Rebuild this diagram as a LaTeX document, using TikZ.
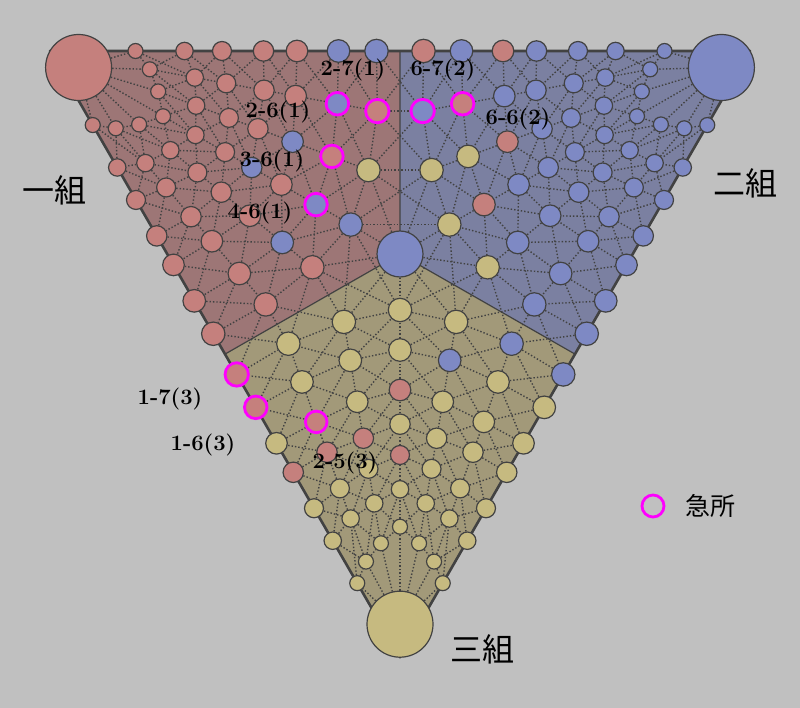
\documentclass[tikz,border=0pt]{standalone}
\usepackage{fontspec}
\newfontfamily\jpfont{Noto Sans CJK JP}
\usetikzlibrary{backgrounds}

\definecolor{bggray}{HTML}{C0C0C0}
\definecolor{redzone}{HTML}{9D7676}
\definecolor{bluezone}{HTML}{7B80A1}
\definecolor{yelzone}{HTML}{A29979}
\definecolor{redstone}{HTML}{C5807D}
\definecolor{bluestone}{HTML}{7E89C4}
\definecolor{yelstone}{HTML}{C6BA80}
\definecolor{inkgray}{HTML}{424242}
\definecolor{kyucolor}{RGB}{255,0,255}

\tikzset{
  stone/.style={circle, draw=inkgray, line width=1.2pt, inner sep=0pt},
  stone1/.style={stone, fill=redstone},
  stone2/.style={stone, fill=bluestone},
  stone3/.style={stone, fill=yelstone},
  red stone/.style={fill=redstone},
  blue stone/.style={fill=bluestone},
  yel stone/.style={fill=yelstone},
  kyusho/.style={draw=kyucolor, line width=2.8pt},
  sz1/.style={minimum size=15pt},
  sz2/.style={minimum size=17.4pt},
  sz3/.style={minimum size=19pt},
  sz4/.style={minimum size=20.4pt},
  sz5/.style={minimum size=21.6pt},
  sz6/.style={minimum size=22.6pt},
  sz7/.style={minimum size=23.4pt},
  web/.style={draw=inkgray, line width=1.4pt, dash pattern=on 1.4pt off 2pt},
  zone edge/.style={draw=inkgray, line width=1.2pt},
  rim/.style={draw=inkgray, line width=2.6pt, line join=round},
  pos label/.style={font=\bfseries\fontsize{22}{26}\selectfont, inner sep=0pt},
  group label/.style={font=\jpfont\fontsize{32}{36}\selectfont, inner sep=0pt},
  % stones that are not of the zone colour
  st1-1-6/.style={blue stone}, st1-1-7/.style={blue stone},
  st1-2-6/.style={blue stone, kyusho}, st1-2-7/.style={kyusho},
  st1-3-5/.style={blue stone}, st1-3-6/.style={kyusho}, st1-3-7/.style={yel stone},
  st1-4-4/.style={blue stone}, st1-4-6/.style={blue stone, kyusho},
  st1-4-7/.style={blue stone}, st1-5-6/.style={blue stone},
  st2-7-7/.style={red stone}, st2-7-5/.style={red stone},
  st2-6-6/.style={red stone, kyusho}, st2-6-7/.style={kyusho},
  st2-5-5/.style={red stone}, st2-5-6/.style={yel stone}, st2-5-7/.style={yel stone},
  st2-4-6/.style={red stone}, st2-4-7/.style={yel stone}, st2-3-7/.style={yel stone},
  st3-1-7/.style={red stone, kyusho}, st3-1-6/.style={red stone, kyusho},
  st3-2-5/.style={red stone, kyusho}, st3-1-4/.style={red stone},
  st3-2-4/.style={red stone}, st3-3-4/.style={red stone},
  st3-4-3/.style={red stone}, st3-4-5/.style={red stone},
  st3-5-6/.style={blue stone}, st3-6-7/.style={blue stone}, st3-7-7/.style={blue stone}
}

\begin{document}
\begin{tikzpicture}[x=1pt, y=-1pt]
  \useasboundingbox (0,0) rectangle (800,708);
  % triangle and zone borders
  \coordinate (v1) at (50,51);
  \coordinate (v2) at (750,51);
  \coordinate (v3) at (400,657.2);
  \coordinate (mtop) at (400,51);
  \coordinate (mleft) at (225,354.1);
  \coordinate (mright) at (575,354.1);
  \node[stone2, minimum size=46pt] (o) at (400,254) {};
  \node[stone1, minimum size=66pt] (c1) at ([shift={(50,51)}]30:33) {};
  \node[stone2, minimum size=66pt] (c2) at ([shift={(750,51)}]150:33) {};
  \node[stone3, minimum size=66pt] (c3) at ([shift={(400,657.2)}]270:33) {};

  % stones, row by row out of each corner
  \foreach \reg/\cx/\cy/\base in {1/50/51/0, 2/750/51/120, 3/400/657.2/240}
    \foreach \i/\ang/\rA/\rB/\rC/\rD/\rE/\rF/\rG in {
        1/0/85.5/134.5/172/213.5/247/288.5/326.5,
        2/10.4/101.5/147.2/179.2/217.6/249.8/292.2/332.8,
        3/20.5/115.5/156/191/222/259/301/340,
        4/30/130.5/167.9/202.2/233/267.2/307.2/347.2,
        5/39.5/115.5/156/191/222/259/301/340,
        6/49.6/101.5/147.2/179.2/217.6/249.8/292.2/332.8,
        7/60/85.5/134.5/172/213.5/247/288.5/326.5}
      \foreach \j/\rad in {1/\rA,2/\rB,3/\rC,4/\rD,5/\rE,6/\rF,7/\rG}
        \node[stone\reg, sz\j, st\reg-\i-\j/.try] (s\reg-\i-\j)
          at ([shift={(\cx,\cy)}]\base+\ang:\rad) {};

  \begin{scope}[on background layer]
    \fill[bggray] (0,0) rectangle (800,708);
    \fill[redzone] (v1) -- (mtop) -- (o.center) -- (mleft) -- cycle;
    \fill[bluezone] (v2) -- (mright) -- (o.center) -- (mtop) -- cycle;
    \fill[yelzone] (v3) -- (mleft) -- (o.center) -- (mright) -- cycle;
    \draw[zone edge] (o.center) -- (mtop) (o.center) -- (mleft) (o.center) -- (mright);
    \draw[rim] (v1) -- (v2) -- (v3) -- cycle;
    % the web inside each zone
    \foreach \reg in {1,2,3} {
      \foreach \i in {1,...,7} {
        \draw[web] (c\reg) -- (s\reg-\i-1);
        \foreach \j [count=\jj from 2] in {1,...,6}
          \draw[web] (s\reg-\i-\j) -- (s\reg-\i-\jj);
      }
      \foreach \i [count=\ii from 2] in {1,...,6} {
        \foreach \j in {1,...,7}
          \draw[web] (s\reg-\i-\j) -- (s\reg-\ii-\j);
        \foreach \j [count=\jj from 2] in {1,...,6} {
          \draw[web] (s\reg-\i-\j) -- (s\reg-\ii-\jj);
          \draw[web] (s\reg-\ii-\j) -- (s\reg-\i-\jj);
        }
      }
      \foreach \i in {3,4,5}
        \draw[web] (o) -- (s\reg-\i-7);
    }
    % across the zone borders
    \foreach \reg/\nxt in {1/2, 2/3, 3/1} {
      \foreach \i in {1,...,4} {
        \pgfmathtruncatemacro\m{8-\i}
        \draw[web] (s\reg-\i-7) -- (s\nxt-\m-7);
      }
      \foreach \i [count=\ii from 2] in {1,2,3} {
        \pgfmathtruncatemacro\m{7-\i}
        \pgfmathtruncatemacro\n{8-\i}
        \draw[web] (s\reg-\i-7) -- (s\nxt-\m-7);
        \draw[web] (s\reg-\ii-7) -- (s\nxt-\n-7);
      }
    }
  \end{scope}

  % labels
  \node[pos label] (lab271) at (353,70) {2-7(1)};
  \node[pos label] (lab672) at (443,70) {6-7(2)};
  \node[pos label] (lab261) at (278,112) {2-6(1)};
  \node[pos label] (lab662) at (518,119) {6-6(2)};
  \node[pos label] (lab361) at (272,161) {3-6(1)};
  \node[pos label] (lab461) at (260,213) {4-6(1)};
  \node[pos label] (lab173) at (170,399) {1-7(3)};
  \node[pos label] (lab163) at (203,445) {1-6(3)};
  \node[pos label] (lab253) at (345,463) {2-5(3)};
  \node[group label] (g1) at (55,190) {一組};
  \node[group label] (g2) at (745,183) {二組};
  \node[group label] (g3) at (482,649) {三組};
  \node[circle, draw=kyucolor, line width=2.8pt, minimum size=22pt] (legend) at (653,506) {};
  \node[font=\jpfont\fontsize{25}{28}\selectfont, inner sep=0pt] (legtext) at (710,506) {急所};
\end{tikzpicture}
\end{document}
